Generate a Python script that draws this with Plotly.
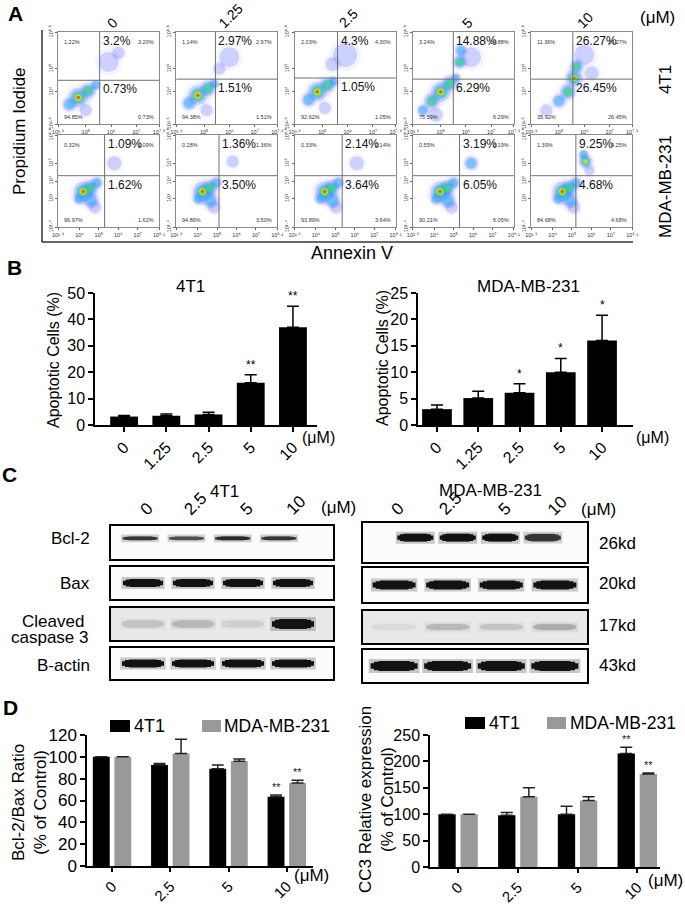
import plotly.graph_objects as go

W, H = 685, 906
FONT = "Liberation Sans, Arial, sans-serif"

# ---------------- panel A: Annexin V / PI flow cytometry ----------------
doses_a = ["0", "1.25", "2.5", "5", "10"]
ul_4t1 = [1.22, 1.14, 2.03, 3.24, 11.36]
ur_4t1 = [3.20, 2.97, 4.30, 14.88, 26.27]
ll_4t1 = [94.85, 94.38, 92.62, 75.59, 35.92]
lr_4t1 = [0.73, 1.51, 1.05, 6.29, 26.45]
ul_mda = [0.32, 0.28, 0.33, 0.55, 1.39]
ur_mda = [1.09, 1.36, 2.14, 3.19, 9.25]
ll_mda = [96.97, 94.86, 93.89, 90.21, 84.68]
lr_mda = [1.62, 3.50, 3.64, 6.05, 4.68]
big_ur = ["3.2%", "2.97%", "4.3%", "14.88%", "26.27%",
          "1.09%", "1.36%", "2.14%", "3.19%", "9.25%"]
big_lr = ["0.73%", "1.51%", "1.05%", "6.29%", "26.45%",
          "1.62%", "3.50%", "3.64%", "6.05%", "4.68%"]
# quadrant gates (log10 units)
gate_x = [5.55, 5.45, 5.6, 5.5, 5.55, 5.3, 5.1, 5.35, 5.3, 5.2]
gate_y = [4.5, 4.55, 4.6, 4.55, 4.55, 4.3, 4.3, 4.3, 4.3, 4.3]
# cell populations per plot: centre (log10), spread (px), peak density level 1-5
pop_x = [
    [4.35, 4.7, 5.1, 5.4, 5.0, 5.9, 6.3],
    [4.4, 4.75, 5.15, 5.4, 5.1, 6.0, 5.6],
    [4.45, 4.8, 5.2, 5.45, 5.1, 5.9, 5.4],
    [4.3, 4.65, 5.0, 5.35, 5.6, 5.75, 5.8, 6.2, 4.8],
    [5.6, 5.7, 5.35, 5.0, 4.5, 6.0, 6.3],
    [4.2, 4.55, 4.6, 4.8, 4.0, 4.9, 5.8],
    [4.25, 4.6, 4.65, 4.85, 4.05, 4.95, 5.8],
    [4.45, 4.8, 4.85, 5.05, 4.25, 5.15, 6.1],
    [4.3, 4.65, 4.7, 4.9, 4.1, 5.0, 5.9],
    [4.5, 4.85, 4.9, 5.1, 4.3, 5.2, 5.7, 5.6, 5.9],
]
pop_y = [
    [3.45, 3.75, 4.05, 4.3, 3.2, 5.3, 5.7],
    [3.5, 3.85, 4.15, 4.35, 3.2, 5.5, 5.0],
    [3.65, 4.0, 4.3, 4.45, 3.3, 5.6, 5.2],
    [3.2, 3.6, 4.0, 4.35, 4.6, 5.3, 5.8, 5.5, 3.0],
    [4.6, 5.1, 4.0, 3.6, 3.2, 5.6, 4.8],
    [3.4, 3.6, 2.9, 2.5, 3.0, 3.9, 5.0],
    [3.4, 3.6, 2.9, 2.5, 3.0, 3.9, 5.1],
    [3.4, 3.6, 2.9, 2.5, 3.0, 3.9, 5.0],
    [3.4, 3.6, 2.9, 2.5, 3.0, 3.9, 5.0],
    [3.4, 3.6, 2.9, 2.5, 3.0, 3.9, 5.1, 5.5, 4.6],
]
pop_spread = [
    [14, 20, 16, 10, 12, 20, 12],
    [14, 20, 16, 10, 12, 20, 12],
    [14, 20, 16, 10, 12, 24, 14],
    [12, 16, 20, 16, 10, 14, 12, 20, 14],
    [18, 14, 16, 14, 12, 20, 14],
    [20, 16, 16, 12, 12, 12, 14],
    [20, 16, 16, 12, 12, 12, 12],
    [20, 16, 16, 12, 12, 12, 14],
    [20, 16, 16, 12, 12, 12, 14],
    [20, 16, 16, 12, 12, 12, 14, 10, 10],
]
pop_peak = [
    [2, 5, 3, 2, 1, 1, 1],
    [2, 5, 3, 2, 1, 1, 1],
    [2, 5, 3, 2, 1, 1, 1],
    [2, 3, 5, 3, 2, 3, 2, 1, 1],
    [5, 3, 3, 2, 1, 1, 1],
    [5, 3, 2, 1, 2, 2, 1],
    [5, 3, 2, 1, 2, 2, 1],
    [5, 3, 2, 1, 2, 2, 1],
    [5, 3, 2, 1, 2, 2, 2],
    [5, 3, 2, 1, 2, 2, 4, 2, 1],
]

# ---------------- panel B: apoptotic cells ----------------
doses_b = ["0", "1.25", "2.5", "5", "10"]
apop_4t1 = [3.2, 3.5, 4.0, 16.0, 37.0]
apop_4t1_sd = [0.4, 0.7, 0.8, 3.0, 8.0]
apop_mda = [3.0, 5.1, 6.1, 10.0, 16.0]
apop_mda_sd = [0.8, 1.3, 1.7, 2.6, 4.8]
sig_b_4t1 = ["", "", "", "**", "**"]
sig_b_mda = ["", "", "*", "*", "*"]

# ---------------- panel C: western blots ----------------
doses_c = ["0", "2.5", "5", "10"]
blot_rows = ["Bcl-2", "Bax", "Cleaved caspase 3", "B-actin"]
blot_kd = ["26kd", "20kd", "17kd", "43kd"]
band_4t1_bcl2 = [0.85, 0.75, 0.9, 0.85]
band_4t1_bax = [1.0, 1.0, 1.0, 1.0]
band_4t1_cc3 = [0.25, 0.3, 0.2, 1.0]
band_4t1_actin = [1.0, 1.0, 1.0, 1.0]
band_mda_bcl2 = [1.0, 1.0, 1.0, 0.85]
band_mda_bax = [1.0, 1.0, 1.0, 1.0]
band_mda_cc3 = [0.15, 0.3, 0.25, 0.35]
band_mda_actin = [1.0, 1.0, 1.0, 1.0]

# ---------------- panel D: quantification ----------------
doses_d = ["0", "2.5", "5", "10"]
ratio_4t1 = [100, 92.5, 89, 63.5]
ratio_4t1_sd = [0, 1.5, 3.5, 1.5]
ratio_mda = [100, 103, 96, 76]
ratio_mda_sd = [0, 13, 2, 2.5]
cc3_4t1 = [100, 98, 100, 215]
cc3_4t1_sd = [0, 5, 15, 12]
cc3_mda = [100, 133, 126, 176]
cc3_mda_sd = [0, 17, 7, 2]
sig_d = ["", "", "", "**"]

GRAY = "#999999"
SUP = str.maketrans("0123456789.", "⁰¹²³⁴⁵⁶⁷⁸⁹·")

traces = []
layout = dict(width=W, height=H, margin=dict(l=0, r=0, t=0, b=0), template="none",
              paper_bgcolor="white", plot_bgcolor="white", showlegend=False,
              font=dict(family=FONT, color="black", size=14))
ann = []
shp = []


def refs(k):
    return ("x" if k == 1 else f"x{k}"), ("y" if k == 1 else f"y{k}")


def dom_x(a, b):
    return [a / W, b / W]


def dom_y(top, bot):
    return [1 - bot / H, 1 - top / H]


def set_axes(k, xa, ya):
    xn = "xaxis" if k == 1 else f"xaxis{k}"
    yn = "yaxis" if k == 1 else f"yaxis{k}"
    xr, yr = refs(k)
    layout[xn] = dict(anchor=yr, automargin=False, showgrid=False, zeroline=False, **xa)
    layout[yn] = dict(anchor=xr, automargin=False, showgrid=False, zeroline=False, **ya)


def note(text, x, y, size=17, angle=0, xa="center", ya="middle", bold=False, **kw):
    ann.append(dict(text=f"<b>{text}</b>" if bold else text, x=x / W, y=1 - y / H,
                    xref="paper", yref="paper", showarrow=False, textangle=angle,
                    xanchor=xa, yanchor=ya,
                    font=dict(size=size, family=FONT, color="black"), **kw))


def pow10(v):
    return "10" + f"{v:g}".translate(SUP)


# ---------- panel A ----------
layers = [(1.35, "rgba(80,80,255,0.08)", 1), (1.0, "rgba(40,60,255,0.28)", 1),
          (0.72, "rgba(0,175,250,0.6)", 2), (0.52, "rgba(60,215,90,0.8)", 3),
          (0.34, "rgba(240,230,0,0.9)", 4), (0.18, "rgba(255,40,0,0.95)", 5)]
ul_all = ul_4t1 + ul_mda
ur_all = ur_4t1 + ur_mda
ll_all = ll_4t1 + ll_mda
lr_all = lr_4t1 + lr_mda

for i in range(10):
    r, c = divmod(i, 5)
    k = i + 1
    xr, yr = refs(k)
    x0 = 58 + 118.3 * c
    top, bot = (32, 124) if r == 0 else (135, 227)
    xrange_ = [3.9, 7.9] if r == 0 else [2.9, 8.1]
    yrange_ = [2.6, 6.6] if r == 0 else [1.4, 6.6]
    xt = [3.9, 5, 6, 7, 7.9] if r == 0 else [2.9, 4, 5, 6, 7, 8.1]
    yt = [2.6, 4, 5, 6.6] if r == 0 else [1.4, 3, 4, 5, 6.6]
    common = dict(showline=True, mirror=True, linecolor="#8a8a8a", linewidth=1,
                  ticks="outside", ticklen=2, tickwidth=0.7, tickcolor="#666",
                  tickfont=dict(size=5.5, color="#333", family=FONT))
    set_axes(k,
             dict(domain=dom_x(x0, x0 + 101), range=xrange_, tickvals=xt,
                  ticktext=[pow10(v) for v in xt], **common),
             dict(domain=dom_y(top, bot), range=yrange_, tickvals=yt, tickangle=-90,
                  ticktext=[pow10(v) for v in yt], **common))
    for f, col, need in layers:
        idx = [j for j in range(len(pop_x[i])) if pop_peak[i][j] >= need]
        traces.append(go.Scatter(
            x=[pop_x[i][j] for j in idx], y=[pop_y[i][j] for j in idx],
            mode="markers", xaxis=xr, yaxis=yr, hoverinfo="skip",
            marker=dict(size=[pop_spread[i][j] * f for j in idx], color=col,
                        line=dict(width=0))))
    shp.append(dict(type="line", xref=xr, yref=f"{yr} domain", x0=gate_x[i], x1=gate_x[i],
                    y0=0, y1=1, line=dict(color="#707070", width=1)))
    shp.append(dict(type="line", xref=f"{xr} domain", yref=yr, x0=0, x1=1,
                    y0=gate_y[i], y1=gate_y[i], line=dict(color="#707070", width=1)))
    big = dict(showarrow=False, font=dict(size=12, family=FONT, color="#111"),
               xanchor="left", yanchor="top", xshift=1)
    ann.append(dict(text=big_ur[i], xref=xr, yref=f"{yr} domain", x=gate_x[i], y=1, **big))
    ann.append(dict(text=big_lr[i], xref=xr, yref=yr, x=gate_x[i], y=gate_y[i], **big))
    small = dict(showarrow=False, font=dict(size=5.5, family=FONT, color="#333"),
                 xref=f"{xr} domain", yref=f"{yr} domain", yanchor="middle")
    ann.append(dict(text=f"{ul_all[i]:.2f}%", x=0.04, y=0.89, xanchor="left", **small))
    ann.append(dict(text=f"{ur_all[i]:.2f}%", x=0.97, y=0.89, xanchor="right", **small))
    ann.append(dict(text=f"{ll_all[i]:.2f}%", x=0.04, y=0.08, xanchor="left", **small))
    ann.append(dict(text=f"{lr_all[i]:.2f}%", x=0.97, y=0.08, xanchor="right", **small))
    if r == 0:
        note(doses_a[c], x0 + 54, 34, size=14, angle=-45, ya="bottom")

note("A", 15, 14, size=21, bold=True)
note("(μM)", 657, 18, size=17)
note("Propidium Iodide", 20, 131, size=17, angle=-90)
note("Annexin V", 352, 253, size=18)
note("4T1", 665, 80, size=17, angle=-90)
note("MDA-MB-231", 665, 187, size=17, angle=-90)
shp.append(dict(type="line", xref="paper", yref="paper", x0=42 / W, x1=42 / W,
                y0=1 - 30 / H, y1=1 - 242 / H, line=dict(color="#333", width=1.5)))
shp.append(dict(type="line", xref="paper", yref="paper", x0=42 / W, x1=633 / W,
                y0=1 - 242 / H, y1=1 - 242 / H, line=dict(color="#333", width=1.5)))

# ---------- bar chart helpers ----------
BAR_LINE = dict(showline=True, linecolor="black", linewidth=1.5, ticks="outside",
                ticklen=5, tickwidth=1.5, tickcolor="black")


def bar_axes(k, xd, yd, xrange_, yrange_, dtick, labels, fx, fy, tlen=5):
    xa = dict(BAR_LINE, ticklen=tlen)
    set_axes(k,
             dict(domain=xd, range=xrange_, tickvals=list(range(len(labels))),
                  ticktext=labels, tickangle=-45, tickfont=dict(size=fx), **xa),
             dict(domain=yd, range=yrange_, dtick=dtick, tick0=0,
                  tickfont=dict(size=fy), **BAR_LINE))


def err(sd, color="black"):
    return dict(type="data", symmetric=False, array=[s if s else None for s in sd],
                arrayminus=[0] * len(sd), color=color, thickness=1.5, width=6)


# ---------- panel B ----------
bar_axes(11, dom_x(95, 317), dom_y(293, 425), [-0.69, 4.57], [0, 50], 10, doses_b, 16, 16)
bar_axes(12, dom_x(418, 633), dom_y(293, 425), [-0.46, 4.75], [0, 25], 5, doses_b, 16, 16)
for k, vals, sd, sig, w in [(11, apop_4t1, apop_4t1_sd, sig_b_4t1, 0.66),
                            (12, apop_mda, apop_mda_sd, sig_b_mda, 0.72)]:
    xr, yr = refs(k)
    traces.append(go.Bar(x=list(range(len(vals))), y=vals, width=w, xaxis=xr, yaxis=yr,
                         marker=dict(color="black", line=dict(width=0)), error_y=err(sd)))
    for j, s in enumerate(sig):
        if s:
            ann.append(dict(text=s, xref=xr, yref=yr, x=j, y=vals[j] + sd[j], showarrow=False,
                            yanchor="bottom", yshift=1, font=dict(size=12, family=FONT)))

note("B", 14, 268, size=21, bold=True)
note("4T1", 190, 287, size=17)
note("MDA-MB-231", 528, 287, size=17)
note("Apoptotic Cells (%)", 53, 360, size=16, angle=-90)
note("Apoptotic Cells (%)", 382, 358, size=16, angle=-90)
note("(μM)", 318, 437, size=16)
note("(μM)", 652, 437, size=16)

# ---------- panel C ----------
bands_left = [band_4t1_bcl2, band_4t1_bax, band_4t1_cc3, band_4t1_actin]
bands_right = [band_mda_bcl2, band_mda_bax, band_mda_cc3, band_mda_actin]
rows_left = [(526, 559), (567, 599), (608, 640), (648, 679)]
rows_right = [(523, 562), (568, 602), (611, 643), (650, 682)]
xr_left = [[-0.63, 4.17], [-0.64, 3.8], [-0.64, 3.8], [-0.64, 3.8]]
xr_right = [[-1.23, 4.04], [-0.58, 3.6], [-0.58, 3.6], [-0.58, 3.6]]
yr_rows = [[-1.25, 0.75], [-1, 1], [-1, 1], [-1, 1]]
band_len = [[35, 40, 42, 42], [36, 43, 43, 47]]
band_thick = [[4, 8, 10, 8], [8, 9, 8, 10]]
bg_rows = ["#fbfbfb", "#fbfbfb", "#e9e9e9", "#fbfbfb"]
# tapered band: (length factor, thickness factor, extra px, alpha)
band_layers = [(1.08, 1.0, 4, 0.22), (1.0, 0.55, 0, 1.0),
               (0.86, 0.85, 0, 1.0), (0.66, 1.0, 0, 1.0)]

for side, (bands, rows, xrs, kbase, bx0, bx1) in enumerate(
        [(bands_left, rows_left, xr_left, 13, 111, 333),
         (bands_right, rows_right, xr_right, 17, 363, 587)]):
    for r in range(4):
        k = kbase + r
        xr, yr = refs(k)
        box = dict(showline=True, mirror=True, linecolor="black", linewidth=2,
                   ticks="", showticklabels=False)
        set_axes(k, dict(domain=dom_x(bx0, bx1), range=xrs[r], **box),
                 dict(domain=dom_y(*rows[r]), range=yr_rows[r], **box))
        shp.append(dict(type="rect", xref=f"{xr} domain", yref=f"{yr} domain",
                        x0=0, x1=1, y0=0, y1=1, layer="below", line=dict(width=0),
                        fillcolor=bg_rows[r]))
        vals = bands[r]
        grey = [int(round(255 * (1 - 0.93 * v))) for v in vals]
        thick = [band_thick[side][r] * (0.7 + 0.3 * v) for v in vals]
        # line-ew symbols are drawn 1.4x their marker size
        for lf, tf, extra, alpha in band_layers:
            traces.append(go.Scatter(
                x=list(range(len(vals))), y=[0] * len(vals), mode="markers",
                xaxis=xr, yaxis=yr, hoverinfo="skip",
                marker=dict(symbol="line-ew", size=band_len[side][r] * lf / 1.4,
                            line=dict(width=[t * tf + extra for t in thick],
                                      color=[f"rgba({g},{g},{g},{alpha})" for g in grey]))))

note("C", 9, 474, size=21, bold=True)
note("4T1", 224, 491, size=17)
note("MDA-MB-231", 490, 490, size=17)
for j, d in enumerate(doses_c):
    for k in (14, 18):
        xr, _ = refs(k)
        ann.append(dict(text=d, xref=xr, yref="paper", x=j, y=1 - 522 / H, xshift=3,
                        showarrow=False, textangle=-45, yanchor="bottom",
                        font=dict(size=17, family=FONT)))
note("(μM)", 338, 507, size=17)
note("(μM)", 598, 509, size=17)
row_y = [538, 583, None, 665]
for r, name in enumerate(blot_rows):
    if r == 2:
        note("Cleaved", 86, 621, size=17, xa="right")
        note("caspase 3", 91, 637, size=17, xa="right")
    else:
        note(name, 92, row_y[r], size=17, xa="right")
for r, kd in enumerate(blot_kd):
    note(kd, 597, [543, 583, 625, 665][r], size=17, xa="left")

# ---------- panel D ----------
bar_axes(21, dom_x(87, 313), dom_y(735, 866), [-0.43, 3.45], [0, 120], 20, doses_d, 15, 17, 4)
bar_axes(22, dom_x(430, 660), dom_y(735, 867), [-0.47, 3.38], [0, 250], 50, doses_d, 15, 16, 4)
OFF_A, OFF_B, BW = -0.33, 0.04, 0.29
for k, va, sa, vb, sb in [(21, ratio_4t1, ratio_4t1_sd, ratio_mda, ratio_mda_sd),
                          (22, cc3_4t1, cc3_4t1_sd, cc3_mda, cc3_mda_sd)]:
    xr, yr = refs(k)
    xs = list(range(len(doses_d)))
    for vals, sd, col, off in [(va, sa, "black", OFF_A), (vb, sb, GRAY, OFF_B)]:
        traces.append(go.Bar(x=xs, y=vals, width=BW, offset=off, xaxis=xr, yaxis=yr,
                             marker=dict(color=col, line=dict(width=0)),
                             error_y=err(sd, "#222")))
        for j, s in enumerate(sig_d):
            if s:
                ann.append(dict(text=s, xref=xr, yref=yr, x=j + off + BW / 2,
                                y=vals[j] + sd[j], showarrow=False, yanchor="bottom",
                                yshift=0, font=dict(size=11, family=FONT, color="#222")))

note("D", 10, 707, size=21, bold=True)
note("Bcl-2/Bax Ratio<br>(% of Control)", 29, 803, size=17, angle=-90)
note("CC3 Relative expression<br>(% of Control)", 376, 800, size=17, angle=-90)
note("(μM)", 311, 875, size=17)
note("(μM)", 665, 880, size=17)
# legends
for sx, tx, sx2, tx2, ly in [(110, 132, 202, 222, 726), (465, 487, 547, 568, 723)]:
    shp.append(dict(type="rect", xref="paper", yref="paper", x0=sx / W, x1=(sx + 20) / W,
                    y0=1 - (ly + 6) / H, y1=1 - (ly - 6) / H, fillcolor="black",
                    line=dict(width=0)))
    shp.append(dict(type="rect", xref="paper", yref="paper", x0=sx2 / W, x1=(sx2 + 19) / W,
                    y0=1 - (ly + 6) / H, y1=1 - (ly - 6) / H, fillcolor=GRAY,
                    line=dict(width=0)))
    note("4T1", tx, ly, size=18, xa="left")
    note("MDA-MB-231", tx2, ly, size=17.5, xa="left")

layout["annotations"] = ann
layout["shapes"] = shp
fig = go.Figure(data=traces, layout=layout)
fig.write_html("out.html", config={"displayModeBar": False},
               post_script="document.body.style.margin='0px';")
